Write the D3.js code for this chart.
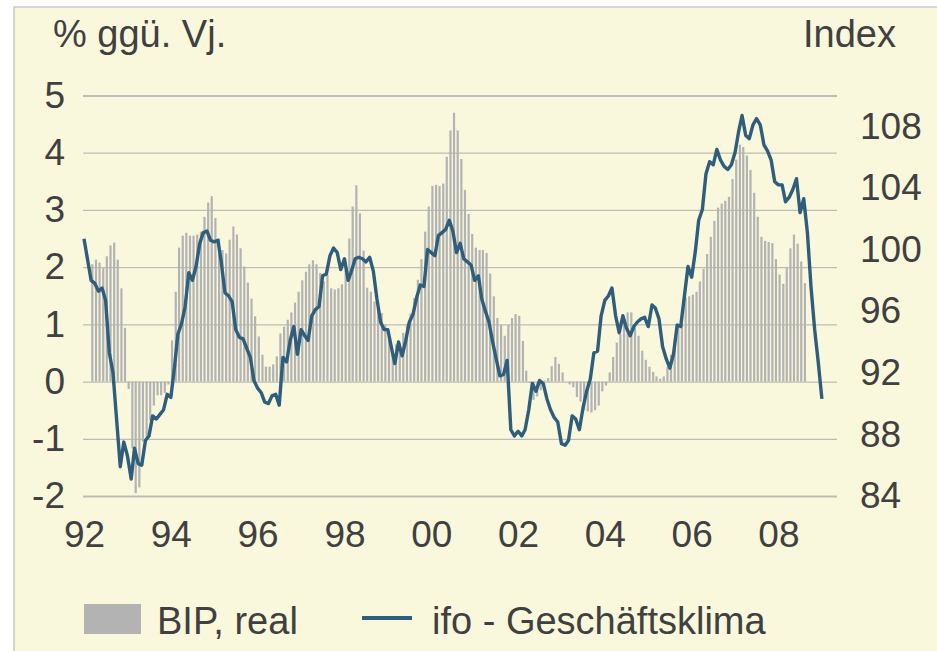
<!DOCTYPE html>
<html>
<head>
<meta charset="utf-8">
<script src="https://cdn.jsdelivr.net/npm/d3@7"></script>
<style>
  html, body { margin: 0; padding: 0; background: #ffffff; }
  svg { display: block; }
  text { font-family: "Liberation Sans", Arial, Helvetica, sans-serif; fill: #404040; }
</style>
</head>
<body>
<svg id="chart" width="937" height="651"></svg>
<script>
// ---------- data ----------
const startYear = 1992;                 // first month of the ifo series: Jan 1992
const leftTitle = "% ggü. Vj.";
const rightTitle = "Index";
const seriesNames = ["BIP, real", "ifo - Geschäftsklima"];
const leftTicks = [-2, -1, 0, 1, 2, 3, 4, 5];
const rightTicks = [84, 88, 92, 96, 100, 104, 108];
const yearTicks = [1992, 1994, 1996, 1998, 2000, 2002, 2004, 2006, 2008];

// BIP, real (% ggü. Vj.), monthly from March 1992
const bipStartMonth = 2;
const bipValues = [
  2.05, 2.13, 2.08, 1.98, 2.19, 2.38, 2.43, 2.13, 1.63, 0.94,
  -0.13, -1.17, -1.95, -1.85, -1.05, -0.98, -0.68, -0.42, -0.24, -0.24,
  -0.20, -0.05, 0.72, 1.57, 2.34, 2.55, 2.60, 2.55, 2.55, 2.57,
  2.62, 2.88, 3.13, 3.24, 2.86, 2.50, 2.30, 2.24, 2.48, 2.71,
  2.57, 2.33, 2.01, 1.73, 1.45, 1.14, 0.79, 0.47, 0.26, 0.26,
  0.30, 0.44, 0.84, 0.96, 1.08, 1.21, 1.38, 1.57, 1.77, 1.92,
  2.05, 2.12, 2.05, 1.90, 1.75, 1.87, 1.63, 1.61, 1.63, 1.70,
  1.95, 2.50, 3.06, 3.43, 2.94, 2.29, 1.64, 1.57, 1.40, 1.30,
  1.20, 1.00, 0.75, 0.48, 0.65, 0.66, 0.85, 1.01, 1.19, 1.46,
  1.78, 2.14, 2.62, 3.06, 3.42, 3.44, 3.42, 3.46, 3.93, 4.39,
  4.70, 4.39, 3.89, 3.35, 2.93, 2.58, 2.34, 2.30, 2.30, 2.25,
  1.89, 1.49, 1.11, 0.99, 0.80, 0.99, 1.11, 1.18, 1.15, 0.71,
  0.19, -0.02, -0.32, -0.26, -0.15, 0.02, 0.06, 0.27, 0.43, 0.31,
  0.16, 0.00, -0.05, -0.10, -0.27, -0.35, -0.50, -0.52, -0.54, -0.50,
  -0.42, -0.17, -0.07, 0.16, 0.43, 0.68, 0.83, 1.12, 1.21, 1.21,
  0.95, 0.80, 0.54, 0.38, 0.26, 0.17, 0.09, 0.05, 0.09, 0.25,
  0.47, 0.72, 0.98, 1.23, 1.47, 1.49, 1.52, 1.57, 1.75, 1.97,
  2.23, 2.53, 2.81, 3.04, 3.11, 3.16, 3.23, 3.54, 3.88, 4.14,
  4.10, 3.95, 3.70, 3.30, 2.88, 2.53, 2.46, 2.44, 2.42, 2.14,
  1.87, 1.71, 1.99, 2.33, 2.57, 2.41, 2.10, 1.72
];

// ifo Geschäftsklima (Index), monthly from Jan 1992
const ifoValues = [
  100.7, 99.3, 98.0, 97.8, 97.3, 97.5, 96.7, 93.3, 92.0, 89.0,
  85.9, 87.5, 86.6, 85.1, 87.1, 86.1, 86.0, 87.6, 87.9, 89.2,
  89.0, 89.3, 89.6, 90.6, 90.4, 92.4, 94.5, 95.2, 96.3, 98.5,
  98.0, 98.9, 100.4, 101.1, 101.2, 100.6, 100.5, 100.6, 99.2, 97.2,
  97.0, 96.6, 94.8, 94.3, 94.2, 93.6, 93.0, 91.5, 91.0, 90.7,
  90.1, 90.0, 90.5, 90.6, 89.9, 93.0, 92.7, 94.1, 95.0, 93.2,
  94.8, 94.4, 94.1, 95.7, 96.1, 96.3, 98.3, 98.4, 99.6, 100.1,
  99.8, 98.7, 99.4, 98.0, 98.6, 99.4, 99.5, 99.4, 99.2, 99.5,
  98.6, 96.8, 95.3, 94.8, 94.8, 93.6, 92.6, 94.0, 93.1, 94.1,
  95.3, 95.8, 96.9, 97.7, 97.6, 100.0, 99.8, 99.6, 100.9, 101.1,
  101.3, 101.9, 101.2, 99.8, 100.4, 99.4, 99.2, 99.0, 98.0, 98.3,
  96.8, 96.0, 95.3, 94.0, 92.9, 91.8, 91.9, 92.8, 88.3, 87.9,
  88.2, 87.9, 88.3, 89.6, 91.3, 90.8, 91.5, 91.3, 90.3, 89.6,
  89.1, 88.8, 87.4, 87.3, 87.6, 89.2, 89.0, 88.3, 89.7, 90.8,
  91.6, 93.3, 93.4, 95.7, 96.7, 97.0, 97.5, 95.7, 94.6, 95.7,
  94.9, 94.4, 95.0, 95.3, 95.5, 95.6, 95.0, 96.4, 96.2, 95.5,
  93.7, 92.9, 92.3, 93.2, 95.1, 95.0, 97.0, 98.9, 98.2, 99.9,
  101.9, 102.6, 104.9, 105.7, 105.5, 106.5, 105.8, 105.4, 105.2, 105.5,
  106.3, 107.7, 108.7, 107.4, 107.2, 108.1, 108.5, 108.1, 106.8, 106.4,
  105.8, 104.4, 104.2, 104.2, 103.1, 103.4, 103.9, 104.6, 102.4, 103.3,
  101.1, 97.6, 94.8, 92.7, 90.3
];

// ---------- styles ----------
const bg = "#faf8dc";
const barColor = "#b3b3b3";
const lineColor = "#2f5d7c";
const gridColor = "#bdbdb6";
const textColor = "#404040";

const svg = d3.select("#chart");

// frame
svg.append("rect").attr("x", 14).attr("y", 7).attr("width", 940).attr("height", 660)
  .attr("fill", bg).attr("stroke", "#c8c8c8").attr("stroke-width", 1.5);

// scales
const x = d3.scaleTime()
  .domain([new Date(1992, 0, 1), new Date(2009, 4, 8)])
  .range([84, 837]);
const yL = d3.scaleLinear().domain([-2, 5]).range([496, 95.5]);
const yR = d3.scaleLinear().domain([84, 110]).range([496, 95.5]);

const monthDate = (m, day) => new Date(startYear, m, day || 1);
const numFmt = d => String(d);   // hyphen-minus like the original

// gridlines (from left axis)
const gridAxis = d3.axisLeft(yL).tickValues(leftTicks).tickSize(-(837 - 83)).tickFormat("");
const g = svg.append("g").attr("transform", "translate(83,0)").call(gridAxis);
g.select(".domain").remove();
g.selectAll(".tick line")
  .attr("stroke", gridColor)
  .attr("stroke-width", d => (d === -2 || d === 5) ? 2.2 : 1.3);

// bars
const bars = bipValues.map((v, i) => ({ m: bipStartMonth + i, v }));
const bw = 2.2;
svg.append("g").selectAll("rect").data(bars).join("rect")
  .attr("x", d => x(monthDate(d.m, 11)) - bw / 2)
  .attr("width", bw)
  .attr("y", d => Math.min(yL(d.v), yL(0)))
  .attr("height", d => Math.abs(yL(d.v) - yL(0)))
  .attr("fill", barColor);

// line
const line = d3.line()
  .x((d, i) => x(monthDate(i)))
  .y(d => yR(d));
svg.append("path").datum(ifoValues)
  .attr("d", line)
  .attr("fill", "none")
  .attr("stroke", lineColor)
  .attr("stroke-width", 3.4)
  .attr("stroke-linejoin", "round")
  .attr("stroke-linecap", "butt");

// left axis labels
const fs = 37;
const styleText = sel => sel.attr("font-size", fs).attr("fill", textColor)
  .attr("font-family", "Liberation Sans, Arial, sans-serif");
const axL = d3.axisLeft(yL).tickValues(leftTicks).tickSize(0).tickPadding(0).tickFormat(numFmt);
const gl = svg.append("g").attr("transform", "translate(65,0)").call(axL);
gl.select(".domain").remove();
styleText(gl.selectAll("text"));

// right axis labels
const axR = d3.axisRight(yR).tickValues(rightTicks).tickSize(0).tickPadding(0).tickFormat(numFmt);
const gr = svg.append("g").attr("transform", "translate(860,0)").call(axR);
gr.select(".domain").remove();
styleText(gr.selectAll("text"));

// x axis labels
const axX = d3.axisBottom(x).tickValues(yearTicks.map(y => new Date(y, 0, 1)))
  .tickSize(0).tickPadding(0).tickFormat(d3.timeFormat("%y"));
const gx = svg.append("g").attr("transform", "translate(0,521)").call(axX);
gx.select(".domain").remove();
styleText(gx.selectAll("text"));

// titles
const fsT = 38;
svg.append("text").attr("x", 53).attr("y", 47).attr("font-size", fsT).text(leftTitle);
svg.append("text").attr("x", 896).attr("y", 47).attr("font-size", fsT)
  .attr("text-anchor", "end").text(rightTitle);

// legend
svg.append("rect").attr("x", 84).attr("y", 604).attr("width", 57).attr("height", 30).attr("fill", barColor);
svg.append("text").attr("x", 157).attr("y", 634).attr("font-size", fsT).text(seriesNames[0]);
svg.append("line").attr("x1", 362).attr("x2", 412).attr("y1", 618).attr("y2", 618)
  .attr("stroke", lineColor).attr("stroke-width", 4);
svg.append("text").attr("x", 432).attr("y", 634).attr("font-size", fsT).text(seriesNames[1]);
</script>
</body>
</html>
